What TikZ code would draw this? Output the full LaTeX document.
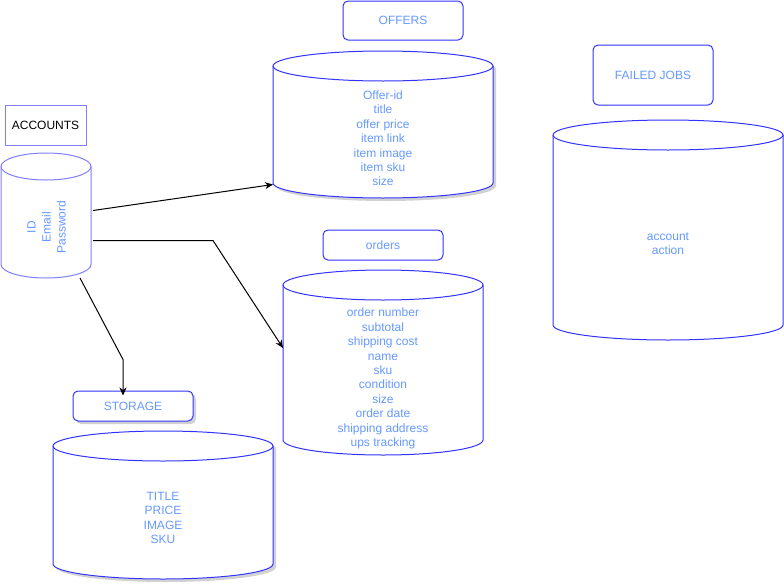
\documentclass[tikz,border=0pt]{standalone}
\usepackage{fontspec}
\setmainfont{Liberation Sans}
\usetikzlibrary{arrows.meta}

\definecolor{dbblue}{RGB}{51,51,255}
\definecolor{dbpale}{RGB}{127,127,255}
\definecolor{dbtext}{RGB}{102,153,255}

% closed outline of a vertical cylinder: x1, y1, x2, y2, ellipse half-height
\newcommand\dbbody[5]{(#1,{#2+#5}) -- (#1,{#4-#5})
  arc[start angle=180,end angle=360,x radius={(#3-#1)/2*1pt},y radius=#5pt]
  -- (#3,{#2+#5})
  arc[start angle=0,end angle=180,x radius={(#3-#1)/2*1pt},y radius=#5pt] -- cycle}

% soft drop shadow behind a cylinder
\newcommand\dbcylshadow[5]{%
  \path[fill=black,opacity=0.18,xshift=3pt,yshift=-3pt] \dbbody{#1}{#2}{#3}{#4}{#5};}

% database cylinder: name, line style, x1, y1, x2, y2, ellipse half-height
\newcommand\dbcylinder[7]{%
  \path[fill=white] \dbbody{#3}{#4}{#5}{#6}{#7};
  \draw[#2] \dbbody{#3}{#4}{#5}{#6}{#7};
  \draw[#2] (#3,{#4+#7}) arc[start angle=180,end angle=360,x radius={(#5-#3)/2*1pt},y radius=#7pt];
  \pgfmathsetmacro\cylw{#5-#3}%
  \pgfmathsetmacro\cylh{#6-#4}%
  \pgfmathsetmacro\cylcx{(#3+#5)/2}%
  \pgfmathsetmacro\cylcy{(#4+#6)/2}%
  \node[inner sep=0pt,outer sep=0pt,minimum width=\cylw pt,minimum height=\cylh pt] (#1) at (\cylcx,\cylcy) {};
}

\tikzset{
  dbline/.style={draw=dbblue,line width=1pt},
  dbpaleline/.style={draw=dbpale,line width=1pt},
  fieldtext/.style={text=dbtext,align=center,inner sep=0pt,font=\fontsize{12}{14.4}\selectfont},
  tablebox/.style={draw=dbblue,line width=1pt,fill=white,rounded corners=5pt,inner sep=0pt,
    text=dbtext,font=\fontsize{12}{14.4}\selectfont},
  boxshadow/.style={fill=black,opacity=0.18,rounded corners=5pt},
  link/.style={draw=black,line width=1pt,-{Stealth[length=8pt,width=7pt]}},
}

\begin{document}
\begin{tikzpicture}[x=1pt,y=-1pt]
\useasboundingbox (0,0) rectangle (784,584);

% accounts
\node[draw=dbpale,line width=1pt,minimum width=81pt,minimum height=40pt,inner sep=0pt,
  font=\fontsize{12}{14.4}\selectfont] (acclabel) at (45.5,125) {ACCOUNTS};
\dbcylinder{accounts}{dbpaleline}{1}{153}{91}{278}{13.5}
\node[fieldtext,rotate=90,font=\fontsize{12}{15}\selectfont] (accfields) at (46.5,227) {ID\\Email\\Password};

% offers
\node[tablebox,minimum width=120pt,minimum height=39pt] (offlabel) at (403,20.5) {OFFERS};
\dbcylshadow{273}{51}{493}{198}{15}
\dbcylinder{offers}{dbline}{273}{51}{493}{198}{15}
\node[fieldtext] (offfields) at (383,138.5) {Offer-id\\title\\offer price\\item link\\item image\\item sku\\size};

% failed jobs
\node[tablebox,minimum width=120pt,minimum height=60pt] (faillabel) at (653,75) {FAILED JOBS};
\dbcylinder{failed}{dbline}{553}{120}{783}{340}{15}
\node[fieldtext] (failfields) at (668,243.5) {account\\action};

% orders
\node[tablebox,minimum width=120pt,minimum height=30pt] (ordlabel) at (383,245) {orders};
\dbcylinder{orders}{dbline}{283}{270}{483}{455}{15}
\node[fieldtext] (ordfields) at (383,378.5) {order number\\subtotal\\shipping cost\\name\\sku\\condition\\size\\order date\\shipping address\\ups tracking};

% storage
\path[boxshadow] (76,394) rectangle (196,424);
\node[tablebox,minimum width=120pt,minimum height=30pt] (storelabel) at (133,406) {STORAGE};
\dbcylshadow{53}{431}{273}{579}{15}
\dbcylinder{storage}{dbline}{53}{431}{273}{579}{15}
\node[fieldtext] (storefields) at (163,518) {TITLE\\PRICE\\IMAGE\\SKU};

% connectors
\draw[link] ([xshift=2pt,yshift=5pt]accounts.east) -- ([yshift=-60pt]offers.west);
\draw[link] ([xshift=2pt,yshift=-25pt]accounts.east) -- ++(120,0) -- ([yshift=14.5pt]orders.west);
\draw[link] ([xshift=34pt]accounts.south) -- ([xshift=-10pt,yshift=31pt]storelabel.north)
  -- ([xshift=-10pt,yshift=-5pt]storelabel.north);
\end{tikzpicture}
\end{document}
